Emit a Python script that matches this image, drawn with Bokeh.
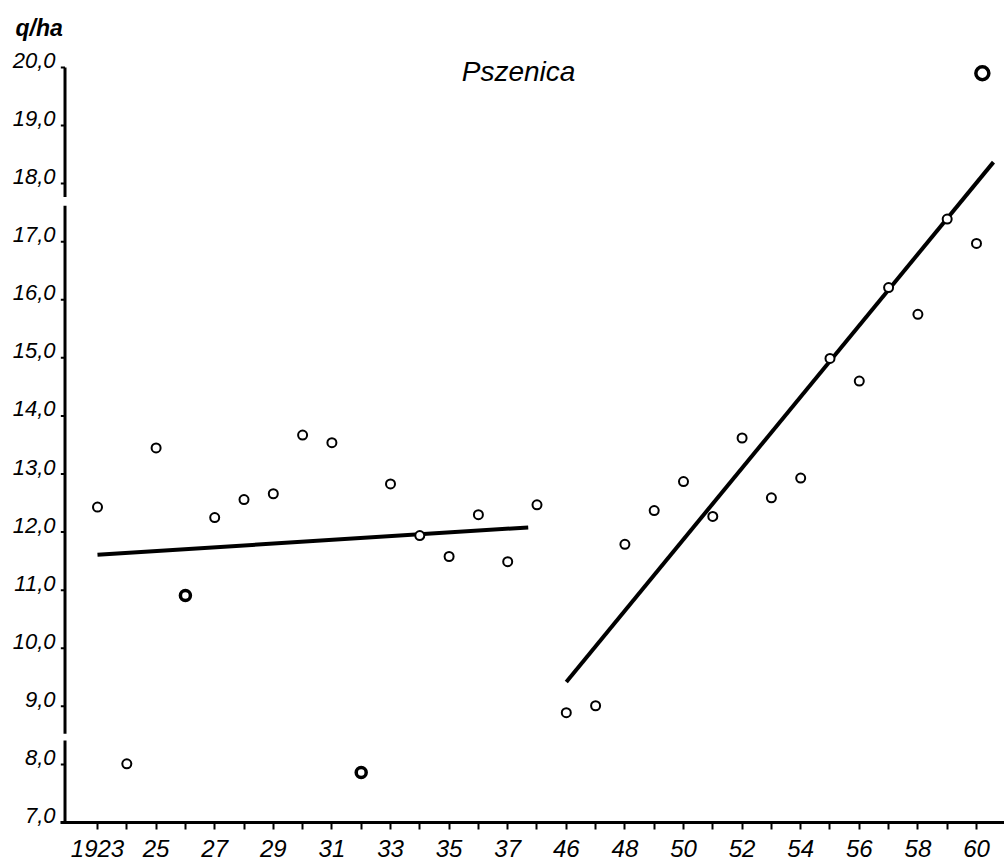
from bokeh.plotting import figure
from bokeh.models import Range1d, FixedTicker, Label, Title
from bokeh.embed import file_html
from bokeh.resources import INLINE

# ---- data (q/ha) ----
years = [1923, 1924, 1925, 1926, 1927, 1928, 1929, 1930, 1931, 1932, 1933,
         1934, 1935, 1936, 1937, 1938,
         1946, 1947, 1948, 1949, 1950, 1951, 1952, 1953, 1954, 1955, 1956,
         1957, 1958, 1959, 1960]
yields = [12.43, 8.01, 13.45, 10.91, 12.25, 12.56, 12.66, 13.67, 13.54, 7.86, 12.83,
          11.94, 11.58, 12.30, 11.49, 12.47,
          8.89, 9.01, 11.79, 12.37, 12.87, 12.27, 13.62, 12.59, 12.93, 14.99, 14.60,
          16.21, 15.75, 17.39, 16.97]
bold_years = [1926, 1932]

extra_years = [1960.2]
extra_values = [19.9]

trend_pre_years = [1923, 1937.7]
trend_pre_values = [11.61, 12.08]
trend_post_years = [1946, 1960.58]
trend_post_values = [9.42, 18.37]

x_label_years = [1923, 1925, 1927, 1929, 1931, 1933, 1935, 1937,
                 1946, 1948, 1950, 1952, 1954, 1956, 1958, 1960]
x_label_texts = ["1923", "25", "27", "29", "31", "33", "35", "37",
                 "46", "48", "50", "52", "54", "56", "58", "60"]
y_ticks = [7, 8, 9, 10, 11, 12, 13, 14, 15, 16, 17, 18, 19, 20]
y_tick_texts = ["7,0", "8,0", "9,0", "10,0", "11,0", "12,0", "13,0", "14,0",
                "15,0", "16,0", "17,0", "18,0", "19,0", "20,0"]
y_axis_pieces = [(7.0, 8.41), (8.53, 17.62), (17.77, 20.0)]

title_text = "Pszenica"
unit_text = "q/ha"


def pos(y):
    # years 1939-1945 are left out of the scale
    return y - 1923 if y < 1942 else y - 1946 + 16


FONT = "Liberation Sans"
X0, X1 = -1.263, 30.956
Y0, Y1 = 7.0, 20.464
LABEL_LIFT = 0.12   # hand-lettered labels sit on the tick, not centred on it

p = figure(width=1004, height=867, output_backend="svg", toolbar_location=None,
           x_range=Range1d(X0, X1), y_range=Range1d(Y0, Y1),
           min_border_left=60, min_border_right=0, min_border_top=40,
           min_border_bottom=45)
p.outline_line_color = None
p.xgrid.visible = False
p.ygrid.visible = False
p.background_fill_color = "white"
p.border_fill_color = "white"

# x axis
xa = p.xaxis[0]
xa.ticker = FixedTicker(ticks=[pos(y) for y in years], minor_ticks=[])
xa.major_label_overrides = {pos(y): "" for y in years}
for y, t in zip(x_label_years, x_label_texts):
    xa.major_label_overrides[pos(y)] = t
xa.axis_line_width = 3
xa.axis_line_color = "black"
xa.major_tick_out = 7
xa.major_tick_in = 0
xa.major_tick_line_width = 2
xa.major_label_standoff = 10
xa.major_label_text_font = FONT
xa.major_label_text_font_style = "italic"
xa.major_label_text_font_size = "24px"
xa.major_label_text_color = "black"

# y axis: labels only (ticks and broken line drawn in the frame)
ya = p.yaxis[0]
label_ticks = [v + LABEL_LIFT for v in y_ticks]
ya.ticker = FixedTicker(ticks=label_ticks, minor_ticks=[])
ya.major_label_overrides = {v: t for v, t in zip(label_ticks, y_tick_texts)}
ya.axis_line_color = None
ya.major_tick_line_color = None
ya.major_tick_out = 0
ya.major_tick_in = 0
ya.major_label_standoff = 5
ya.major_label_text_font = FONT
ya.major_label_text_font_style = "italic"
ya.major_label_text_font_size = "22px"
ya.major_label_text_color = "black"

axis_x = -1.109
tick_x0 = X0 + 0.005
p.segment(x0=[axis_x] * len(y_axis_pieces), x1=[axis_x] * len(y_axis_pieces),
          y0=[a for a, b in y_axis_pieces], y1=[b for a, b in y_axis_pieces],
          line_width=3, line_color="black")
p.segment(x0=[tick_x0] * len(y_ticks), x1=[axis_x] * len(y_ticks),
          y0=y_ticks, y1=y_ticks, line_width=2, line_color="black")

# trend lines
p.line([pos(y) for y in trend_pre_years], trend_pre_values, line_width=4, line_color="black")
p.line([pos(y) for y in trend_post_years], trend_post_values, line_width=4, line_color="black")

# points
normal = [(pos(y), v) for y, v in zip(years, yields) if y not in bold_years]
bold = [(pos(y), v) for y, v in zip(years, yields) if y in bold_years]
p.scatter([a for a, b in normal], [b for a, b in normal], size=9, marker="circle",
          line_color="black", line_width=2, fill_color="white")
p.scatter([a for a, b in bold], [b for a, b in bold], size=10, marker="circle",
          line_color="black", line_width=3.5, fill_color="white")
p.scatter([pos(y) for y in extra_years], extra_values, size=13, marker="circle",
          line_color="black", line_width=3.5, fill_color="white")

# texts
p.add_layout(Label(x=14.37, y=19.67, text=title_text, text_align="center",
                   text_font=FONT, text_font_style="italic", text_font_size="28px",
                   text_color="black"))
p.add_layout(Title(text=unit_text, align="left", offset=-45, standoff=0,
                   text_font=FONT, text_font_style="bold italic",
                   text_font_size="23px", text_color="black"), "above")

open("out.html", "w").write(file_html(p, INLINE))
